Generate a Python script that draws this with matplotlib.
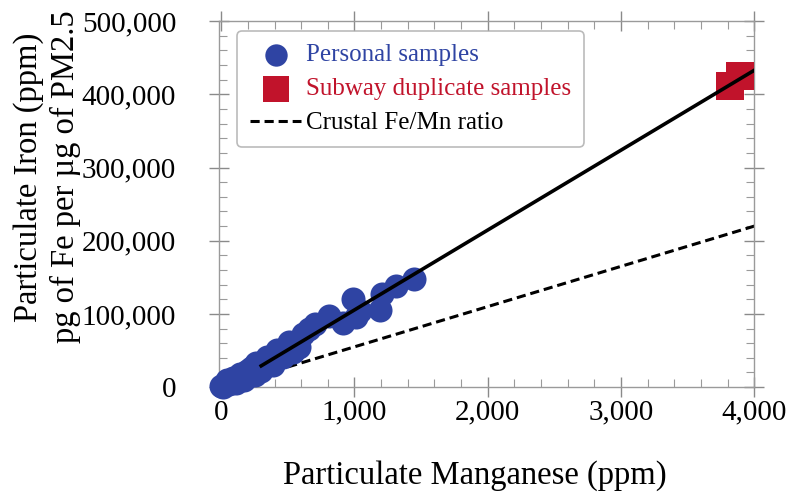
import matplotlib.pyplot as plt
from matplotlib.ticker import MultipleLocator, FuncFormatter

plt.rcParams['font.family'] = ['Liberation Serif', 'DejaVu Serif']

# personal samples (Mn ppm, Fe ppm)
mn_personal = [0, 15, 40, 60, 90, 110, 140, 170, 195, 220, 250, 260, 295, 330,
               345, 390, 420, 465, 505, 540, 580, 615, 660, 705, 805, 910, 990,
               1010, 1045, 1195, 1210, 1310, 1445]
fe_personal = [2000, 0, 9000, 4000, 13000, 6000, 18000, 10000, 22000, 26000,
               16000, 33000, 22000, 36000, 41000, 30000, 50000, 41000, 62000,
               48000, 55000, 72000, 80000, 86000, 97000, 88000, 120000, 96000,
               104000, 106000, 127000, 138000, 148000]

# subway duplicates
mn_subway = [3815, 3895]
fe_subway = [412000, 425000]

# regression fit and crustal ratio lines
fit_x = [300, 4000]
fit_y = [29000, 433000]
crust_x = [300, 4000]
crust_y = [16500, 220000]

blue = '#2f44a3'
red = '#c1132b'

fig = plt.figure(figsize=(8, 5.04), dpi=100)
ax = fig.add_axes([0.274, 0.232, 0.669, 0.726])

ax.plot(crust_x, crust_y, color='black', linestyle=(0, (3, 1.6)), lw=2.2,
        zorder=2, label='Crustal Fe/Mn ratio')
ax.scatter(mn_personal, fe_personal, s=300, color=blue, zorder=3,
           clip_on=False, label='Personal samples', linewidths=0)
ax.scatter(mn_subway, fe_subway, s=380, marker='s', color=red, zorder=3,
           clip_on=False, label='Subway duplicate samples', linewidths=0)
ax.plot(fit_x, fit_y, color='black', lw=2.6, zorder=4)

ax.set_xlim(-15, 4000)
ax.set_ylim(0, 500000)

ax.xaxis.set_major_locator(MultipleLocator(1000))
ax.xaxis.set_minor_locator(MultipleLocator(200))
ax.yaxis.set_major_locator(MultipleLocator(100000))
ax.yaxis.set_minor_locator(MultipleLocator(20000))
fmt = FuncFormatter(lambda v, p: f'{int(v):,}')
ax.xaxis.set_major_formatter(fmt)
ax.yaxis.set_major_formatter(fmt)

for s in ax.spines.values():
    s.set_color('#9a9a9a')
    s.set_linewidth(1.0)
ax.tick_params(which='major', direction='inout', length=14, width=1.0,
               color='#8a8a8a', top=True, right=True, labelsize=21)
ax.tick_params(which='minor', direction='in', length=6, width=0.8,
               color='#9a9a9a', top=True, right=True)
ax.tick_params(axis='x', which='major', pad=2)
ax.tick_params(axis='y', which='major', pad=24)

ax.set_xlabel('Particulate Manganese (ppm)', fontsize=23.5)
ax.set_ylabel('Particulate Iron (ppm)\npg of Fe per µg of PM2.5', fontsize=23.5,
              linespacing=1.25)
ax.xaxis.set_label_coords(0.478, -0.2)
ax.yaxis.set_label_coords(-0.258, 0.574)

handles, labels = ax.get_legend_handles_labels()
order = [1, 2, 0]
leg = ax.legend([handles[i] for i in order], [labels[i] for i in order],
                loc='upper left', bbox_to_anchor=(0.034, 0.972), fontsize=18,
                borderaxespad=0, frameon=True, fancybox=True,
                edgecolor='#aaaaaa', handlelength=2.05, handletextpad=0.2,
                borderpad=0.5, labelspacing=0.46, markerscale=0.93)
leg.get_frame().set_linewidth(1.2)
for t, c in zip(leg.get_texts(), [blue, red, 'black']):
    t.set_color(c)

fig.savefig('out.png', dpi=100)
